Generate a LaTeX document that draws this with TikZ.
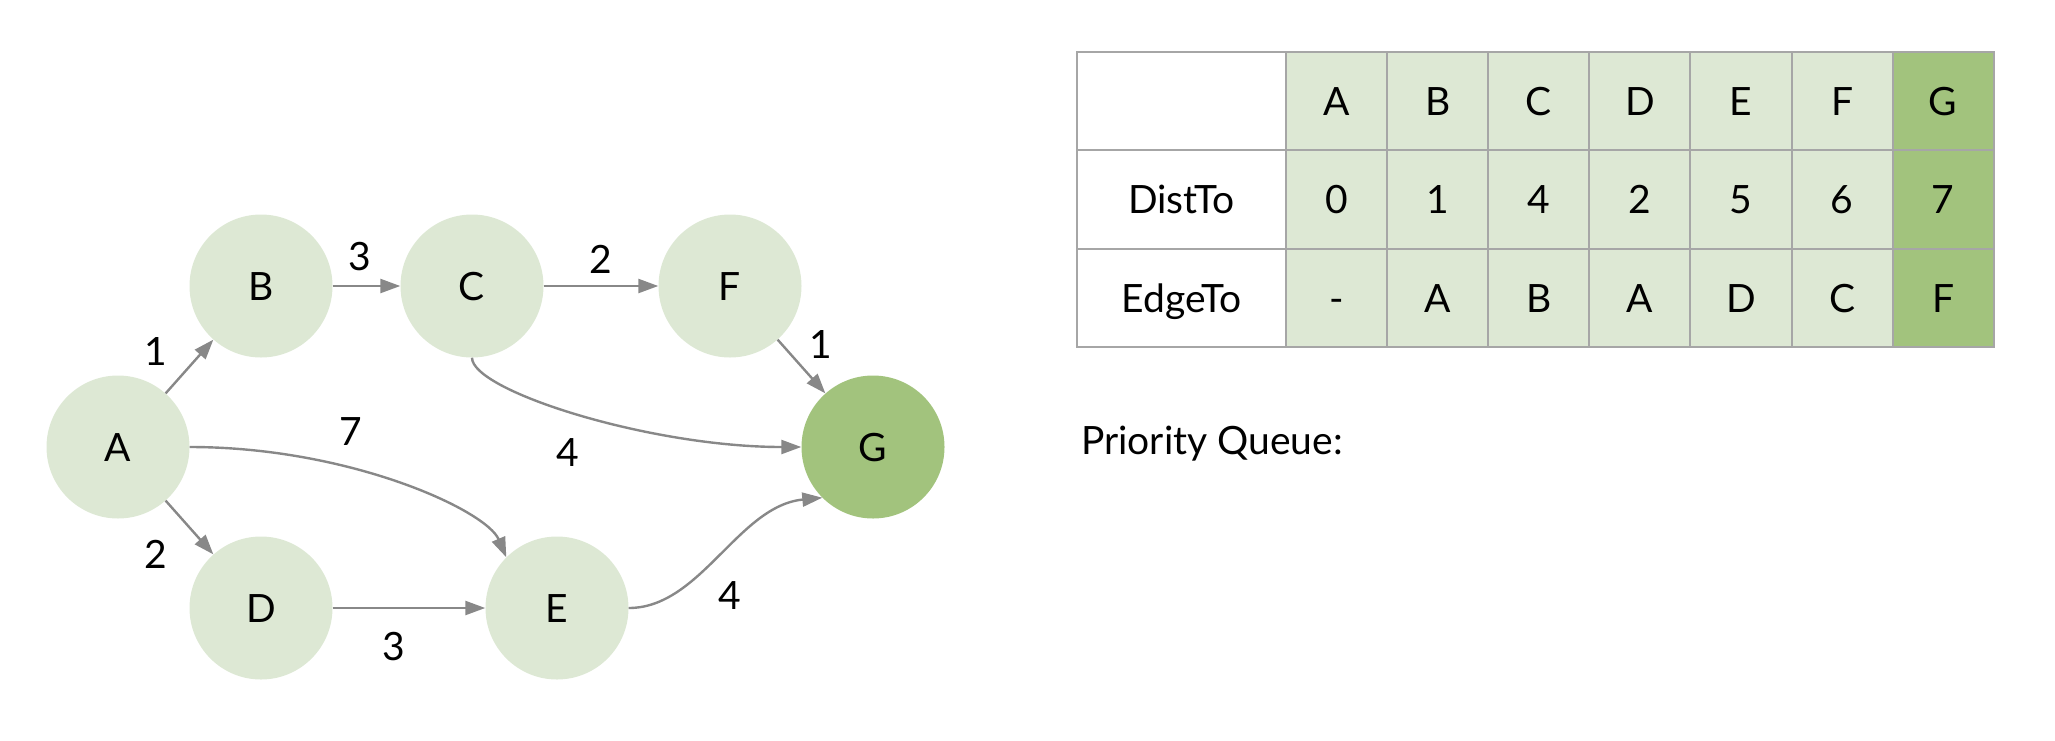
\documentclass[tikz,border=0pt]{standalone}
\usepackage{fontspec}
\setmainfont{Lato}
\usetikzlibrary{arrows.meta}
\definecolor{lightg}{RGB}{221,232,212}
\definecolor{darkg}{RGB}{162,195,125}
\definecolor{edgegray}{RGB}{136,136,136}
\definecolor{gridgray}{RGB}{166,166,166}
\begin{document}
\begin{tikzpicture}[x=1pt,y=-1pt,
  font=\fontsize{39}{47}\selectfont,
  vertex/.style={circle, fill=lightg, minimum size=143pt, inner sep=0pt, text height=28pt, text depth=0pt},
  wlabel/.style={inner sep=0pt, text height=28pt, text depth=0pt},
  conn/.style={draw=edgegray, line width=2.4pt, -{Triangle[length=20pt,width=14pt]}},
  cell/.style={draw=gridgray, line width=2pt, minimum width=101.1pt, minimum height=98.5pt, inner sep=0pt, text height=28pt, text depth=0pt},
  headcell/.style={cell, minimum width=209pt, fill=white}]
\useasboundingbox (0,0) rectangle (2055,740);
% graph vertices
\node[vertex] (A) at (118,447) {A};
\node[vertex] (B) at (261,286) {B};
\node[vertex] (C) at (472,286) {C};
\node[vertex] (F) at (730,286) {F};
\node[vertex, fill=darkg] (G) at (873,447) {G};
\node[vertex] (D) at (261,608) {D};
\node[vertex] (E) at (557,608) {E};
% edges
\draw[conn] (A) -- (B);
\draw[conn] (B) -- (C);
\draw[conn] (C) -- (F);
\draw[conn] (F) -- (G);
\draw[conn] (A) -- (D);
\draw[conn] (D) -- (E);
\draw[conn] (A.east) .. controls +(160,0) and +(-20,-47) .. (E.135);
\draw[conn] (C.south) .. controls +(0,33) and +(-152,0) .. (G.west);
\draw[conn] (E.east) .. controls +(72,0) and +(-84,8) .. (G.225);
% weights
\node[wlabel] (wAB) at (155.8,351) {1};
\node[wlabel] (wBC) at (359.7,256) {3};
\node[wlabel] (wCF) at (601,259) {2};
\node[wlabel] (wFG) at (821,344) {1};
\node[wlabel] (wAE) at (351,431) {7};
\node[wlabel] (wCG) at (567.5,452) {4};
\node[wlabel] (wAD) at (155.8,554) {2};
\node[wlabel] (wDE) at (394,646) {3};
\node[wlabel] (wEG) at (730,595) {4};
% table
\node[headcell] (h0) at (1181.5,101) {};
\node[headcell] (d0) at (1181.5,199.5) {DistTo};
\node[headcell] (e0) at (1181.5,298) {EdgeTo};
\foreach \lab/\d/\e [count=\i] in {A/0/-, B/1/A, C/4/B, D/2/A, E/5/D, F/6/C, G/7/F} {
  \pgfmathsetmacro\cx{1286+101.1*(\i-0.5)}
  \ifnum\i=7 \def\fc{darkg}\else\def\fc{lightg}\fi
  \node[cell, fill=\fc] (h\lab) at (\cx,101) {\lab};
  \node[cell, fill=\fc] (d\lab) at (\cx,199.5) {\d};
  \node[cell, fill=\fc] (e\lab) at (\cx,298) {\e};
}
\node[anchor=base west, inner sep=0pt] (pq) at (1081,454) {Priority Queue:};
\end{tikzpicture}
\end{document}
